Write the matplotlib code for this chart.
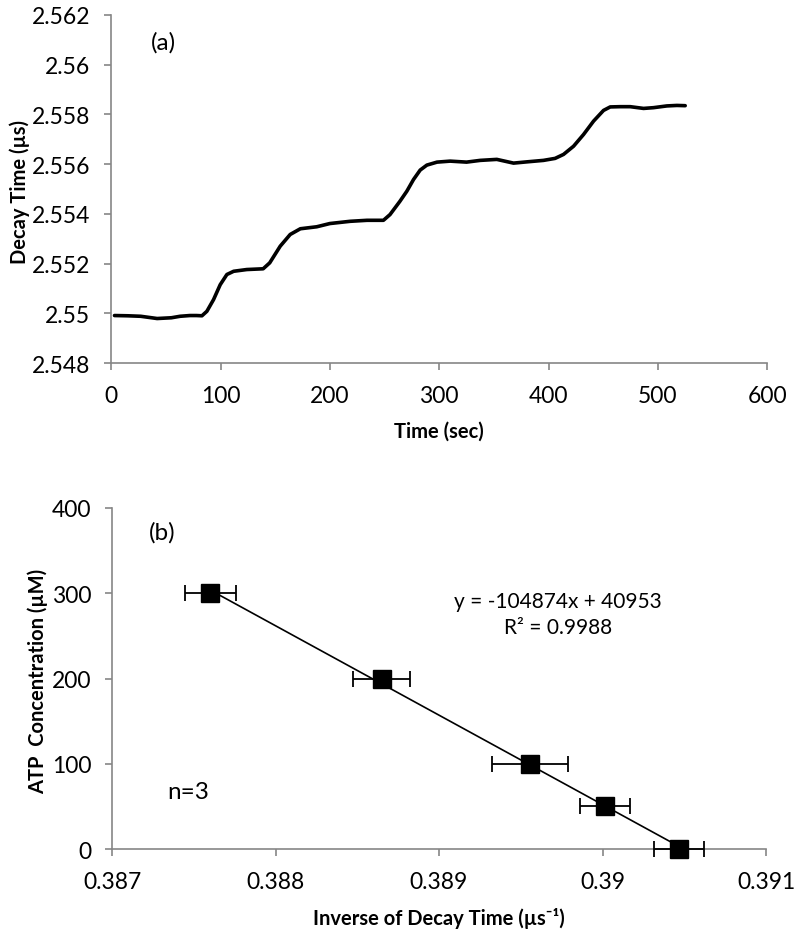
#!/usr/bin/env python
import matplotlib
matplotlib.use("Agg")
import matplotlib.pyplot as plt
import numpy as np

# (a) decay time vs time
time_sec = [3, 15, 27, 42, 55, 63, 72, 78, 83, 87.5, 93.6, 99.7, 105.8, 112, 124, 139, 145,
            154.6, 163.7, 173, 188, 200, 218.6, 234, 249, 255, 264, 270.4, 276.5, 282.6,
            288.7, 298, 310, 325, 337.5, 352.7, 358.8, 368, 380, 395.4, 406, 413.7, 422.9,
            432, 441.2, 450.3, 456.4, 465.5, 474.7, 486.9, 496, 508.2, 517.4, 525]
decay_us = [2.54991, 2.54990, 2.54988, 2.54979, 2.54982, 2.54988, 2.54991, 2.54991, 2.54990,
            2.55008, 2.55055, 2.55115, 2.55156, 2.55169, 2.55176, 2.55179, 2.55203,
            2.55270, 2.55317, 2.55340, 2.55348, 2.55361, 2.55370, 2.55374, 2.55374, 2.55397,
            2.55450, 2.55491, 2.55538, 2.55576, 2.55596, 2.55608, 2.55612, 2.55608, 2.55615,
            2.55619, 2.55613, 2.55604, 2.55609, 2.55615, 2.55623, 2.55639, 2.55672, 2.55719,
            2.55773, 2.55816, 2.55830, 2.55831, 2.55831, 2.55824, 2.55827, 2.55834, 2.55836,
            2.55835]

# (b) calibration
atp_conc = [300, 200, 100, 50, 0]
inv_decay = [0.38760, 0.388651, 0.389557, 0.390015, 0.390468]
inv_decay_err = [0.000156, 0.000174, 0.000232, 0.000153, 0.000153]
slope = -104874
intercept = 40953
r2 = 0.9988

plt.rcParams["font.family"] = ["Lato", "DejaVu Sans"]
spine_grey = "#868686"

fig = plt.figure(figsize=(8, 9.37), dpi=100)
ax1 = fig.add_axes([0.139, 0.6115, 0.82, 0.3715])
ax2 = fig.add_axes([0.14, 0.0928, 0.8175, 0.364])


def style_axes(ax):
    for side in ["top", "right"]:
        ax.spines[side].set_visible(False)
    for side in ["left", "bottom"]:
        ax.spines[side].set_color(spine_grey)
        ax.spines[side].set_linewidth(1.2)
    ax.tick_params(direction="out", length=5, width=1.2, color=spine_grey,
                   labelsize=16.5, labelcolor="black")
    ax.tick_params(axis="x", pad=11)
    ax.tick_params(axis="y", pad=10)


# top panel
ax1.plot(time_sec, decay_us, color="black", linewidth=2.6, solid_capstyle="round")
ax1.set_xlim(0, 600)
ax1.set_ylim(2.548, 2.562)
ax1.set_xticks(np.arange(0, 601, 100))
ax1.set_yticks(np.arange(2.548, 2.5621, 0.002))
ax1.set_yticklabels(["2.548", "2.55", "2.552", "2.554", "2.556", "2.558", "2.56", "2.562"])
style_axes(ax1)
ax1.set_xlabel("Time (sec)", fontsize=14.5, fontweight="bold")
ax1.set_ylabel("Decay Time (µs)", fontsize=14.5, fontweight="bold")
ax1.xaxis.set_label_coords(0.5, -0.167)
ax1.yaxis.set_label_coords(-0.1235, 0.495)
ax1.text(0.079, 0.922, "(a)", transform=ax1.transAxes, fontsize=17.5,
         ha="center", va="center")

# bottom panel
fit_x = np.array([min(inv_decay), max(inv_decay)])
ax2.plot(fit_x, slope * fit_x + intercept, color="black", linewidth=1.2, zorder=2)
ax2.errorbar(inv_decay, atp_conc, xerr=inv_decay_err, fmt="s", color="black",
             markersize=13, ecolor="black", elinewidth=1.3, capsize=6,
             capthick=1.3, zorder=3, clip_on=False)
ax2.set_xlim(0.387, 0.391)
ax2.set_ylim(0, 400)
ax2.set_xticks([0.387, 0.388, 0.389, 0.390, 0.391])
ax2.set_xticklabels(["0.387", "0.388", "0.389", "0.39", "0.391"])
ax2.set_yticks(np.arange(0, 401, 100))
style_axes(ax2)
ax2.set_xlabel("Inverse of Decay Time (µs⁻¹)", fontsize=14.5, fontweight="bold")
ax2.set_ylabel("ATP  Concentration (µM)", fontsize=14.5, fontweight="bold")
ax2.xaxis.set_label_coords(0.5, -0.170)
ax2.yaxis.set_label_coords(-0.098, 0.4935)
ax2.text(0.0775, 0.93, "(b)", transform=ax2.transAxes, fontsize=17.5,
         ha="center", va="center")
ax2.text(0.116, 0.17, "n=3", transform=ax2.transAxes, fontsize=17.5,
         ha="center", va="center")
ax2.text(0.682, 0.727, f"y = {slope}x + {intercept}", transform=ax2.transAxes,
         fontsize=15, ha="center", va="center")
ax2.text(0.682, 0.651, f"R² = {r2}", transform=ax2.transAxes,
         fontsize=15, ha="center", va="center")

fig.savefig("out.png", dpi=100, facecolor="white")
